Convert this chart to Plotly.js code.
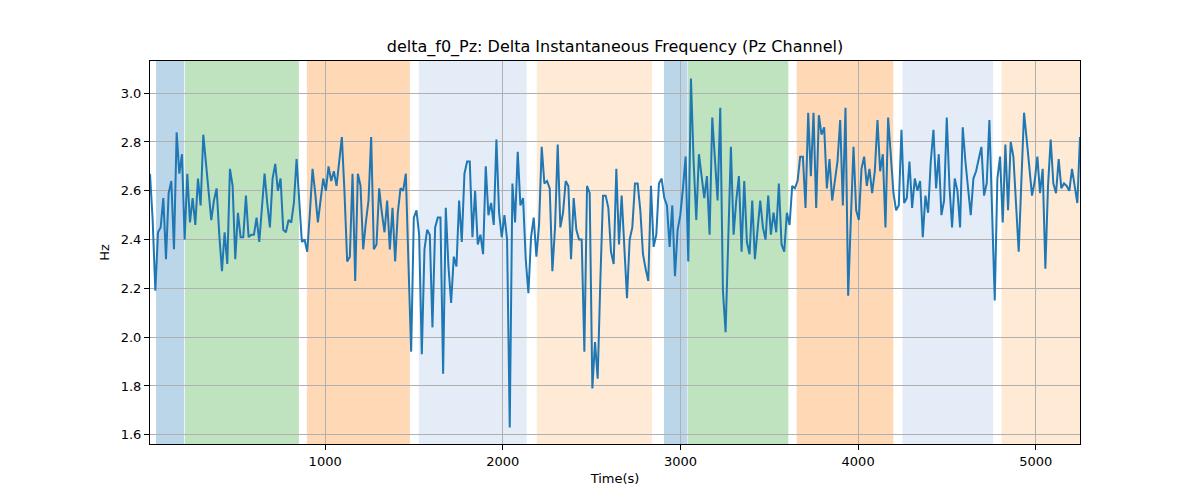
<!DOCTYPE html>
<html>
<head>
<meta charset="utf-8">
<script src="https://cdn.plot.ly/plotly-3.0.1.min.js"></script>
<style>html,body{margin:0;padding:0;background:#fff;}#chart{width:1200px;height:500px;}</style>
</head>
<body>
<div id="chart"></div>
<script>
// Sampling grid of the series (seconds)
const T_START = 14;
const T_STEP = 15;

// delta_f0_Pz values (Hz)
const deltaF0 = [
2.67,2.48,2.19,2.43,2.45,2.57,2.32,2.59,2.64,2.36,2.84,2.67,2.75,2.40,2.67,2.47,2.57,2.46,2.65,2.54,
2.83,2.72,2.59,2.48,2.56,2.61,2.42,2.27,2.43,2.30,2.69,2.62,2.32,2.51,2.41,2.41,2.58,2.41,2.42,2.42,
2.49,2.39,2.53,2.67,2.55,2.45,2.65,2.71,
2.60,2.65,2.44,2.43,2.48,2.47,2.55,2.73,2.56,2.39,2.40,2.35,2.51,2.69,2.59,2.47,2.56,2.65,2.60,2.70,
2.64,2.68,2.62,2.72,2.82,2.59,2.31,2.33,2.67,2.23,2.67,2.62,2.36,2.47,2.56,2.82,2.36,2.38,2.61,2.51,
2.43,2.56,2.36,2.53,2.31,
2.51,2.61,2.60,2.67,2.30,1.94,2.49,2.52,2.42,1.93,2.36,2.44,2.42,2.04,2.45,2.49,2.49,1.85,2.53,2.29,
2.14,2.33,2.29,2.56,2.39,2.67,2.72,2.72,2.41,2.60,2.38,2.42,2.34,2.70,2.50,2.55,2.46,2.81,2.51,2.41,
2.50,2.40,1.63,2.63,2.47,
2.76,2.54,2.57,2.32,2.18,2.41,2.49,2.33,2.46,2.78,2.63,2.64,2.61,2.27,2.45,2.79,2.45,2.51,2.64,2.62,
2.32,2.57,2.44,2.40,2.40,1.94,2.62,2.59,1.79,1.98,1.83,2.23,2.58,2.58,2.53,2.35,2.30,2.69,2.38,2.58,
2.35,2.16,2.40,2.45,2.63,
2.63,2.52,2.34,2.28,2.23,2.62,2.37,2.42,2.63,2.65,2.57,2.54,2.37,2.54,2.25,2.44,2.50,2.61,2.74,2.31,
3.06,2.72,2.48,2.75,2.67,2.57,2.66,2.42,2.90,2.74,2.56,2.94,2.19,2.02,2.37,2.78,2.42,2.56,2.66,2.35,
2.64,2.39,2.34,2.56,2.32,
2.44,2.56,2.45,2.40,2.58,2.42,2.51,2.43,2.63,2.38,2.35,2.51,2.46,2.62,2.61,2.64,2.74,2.74,2.53,2.92,
2.66,2.92,2.53,2.91,2.83,2.86,2.61,2.73,2.56,2.65,2.72,2.89,2.54,2.94,2.17,2.48,2.78,2.52,2.48,2.69,
2.74,2.62,2.69,2.59,2.68,
2.89,2.68,2.75,2.45,2.90,2.72,2.59,2.52,2.54,2.85,2.55,2.57,2.72,2.53,2.65,2.60,2.64,2.41,2.58,2.51,
2.72,2.85,2.61,2.75,2.50,2.56,2.90,2.62,2.45,2.65,2.60,2.45,2.86,2.72,2.62,2.50,2.65,2.68,2.73,2.78,
2.58,2.63,2.89,2.49,2.15,
2.65,2.74,2.47,2.79,2.52,2.80,2.74,2.55,2.35,2.64,2.92,2.81,2.70,2.58,2.64,2.74,2.59,2.69,2.28,2.62,
2.81,2.63,2.59,2.73,2.61,2.63,2.62,2.60,2.69,2.62,2.55,2.82
];

// Shaded segments: start, end (s) and colour
const segStart = [48, 211, 897, 1527, 2191, 2907, 3042, 3654, 4250, 4807];
const segEnd   = [207, 852, 1477, 2135, 2840, 3039, 3607, 4198, 4760, 5300];
const segColor = [
  'rgba(31,119,180,0.3)', 'rgba(44,160,44,0.3)', 'rgba(255,127,14,0.3)',
  'rgba(174,199,232,0.33)', 'rgba(255,187,120,0.3)',
  'rgba(31,119,180,0.3)', 'rgba(44,160,44,0.3)', 'rgba(255,127,14,0.3)',
  'rgba(174,199,232,0.33)', 'rgba(255,187,120,0.3)'
];

const times = deltaF0.map((_, i) => T_START + i * T_STEP);

const shapes = segStart.map((s, i) => ({
  type: 'rect', xref: 'x', yref: 'paper', x0: s, x1: segEnd[i], y0: 0, y1: 1,
  fillcolor: segColor[i], line: {width: 0}, layer: 'below'
}));

const font = {family: 'DejaVu Sans, sans-serif', color: '#000'};

const trace = {
  x: times, y: deltaF0, type: 'scatter', mode: 'lines',
  line: {color: '#1f77b4', width: 2}, hoverinfo: 'skip'
};

const layout = {
  width: 1200, height: 500,
  margin: {l: 150, r: 120, t: 61, b: 56},
  paper_bgcolor: '#fff', plot_bgcolor: 'rgba(0,0,0,0)',
  showlegend: false,
  font: Object.assign({size: 13}, font),
  title: {text: 'delta_f0_Pz: Delta Instantaneous Frequency (Pz Channel)',
          font: Object.assign({size: 16}, font),
          x: 0.5, xref: 'paper', xanchor: 'center', y: 0.908, yref: 'container', yanchor: 'middle'},
  xaxis: {
    range: [14, 5249], dtick: 1000, tick0: 0,
    showgrid: true, gridcolor: '#b0b0b0', gridwidth: 1, zeroline: false,
    ticks: 'outside', ticklen: 5, tickwidth: 1, tickcolor: '#000',
    showline: true, mirror: true, linecolor: '#000', linewidth: 1,
    tickfont: Object.assign({size: 13}, font),
    title: {text: 'Time(s)', font: Object.assign({size: 13}, font), standoff: 6}
  },
  yaxis: {
    range: [1.562, 3.132], dtick: 0.2, tick0: 0, tickformat: '.1f',
    showgrid: true, gridcolor: '#b0b0b0', gridwidth: 1, zeroline: false,
    ticks: 'outside', ticklen: 5, tickwidth: 1, tickcolor: '#000',
    showline: true, mirror: true, linecolor: '#000', linewidth: 1,
    tickfont: Object.assign({size: 13}, font),
    title: {text: 'Hz', font: Object.assign({size: 13}, font), standoff: 8}
  },
  shapes: shapes
};

Plotly.newPlot('chart', [trace], layout, {staticPlot: true, displayModeBar: false});
</script>
</body>
</html>
